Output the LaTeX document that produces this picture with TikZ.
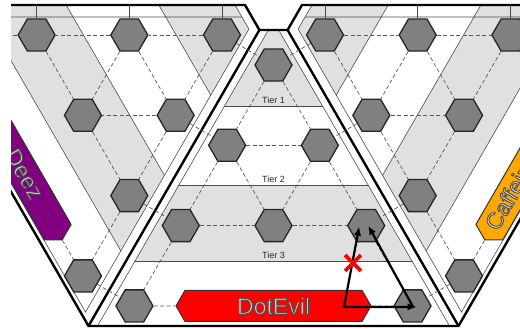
\documentclass[tikz,border=0pt]{standalone}
\usepackage{fontspec}
\setmainfont{Liberation Sans}
\usetikzlibrary{calc,positioning,arrows.meta,shapes.geometric,shapes.symbols,shapes.misc}
\newcommand{\seatname}[1]{\special{pdf:literal direct 2 Tr 0.9 w 0.3 G}#1\special{pdf:literal direct 0 Tr}}
\definecolor{bandgray}{RGB}{224,224,224}
\definecolor{hexgray}{RGB}{128,128,128}
\definecolor{deezpurple}{RGB}{128,0,128}
\definecolor{caffeorange}{RGB}{255,168,0}
\definecolor{evilred}{RGB}{255,0,0}
\tikzset{
  hexa/.style={regular polygon, regular polygon sides=6, minimum size=37pt,
               inner sep=0pt, fill=hexgray, draw=black!85, line width=1.3pt},
  hexlink/.style={draw=black!65, line width=0.7pt, dash pattern=on 4pt off 2.5pt},
  rim/.style={line width=2.4pt, black},
  lane/.style={line width=0.6pt, black!70},
  band/.style={fill=bandgray},
  seat/.style={signal, signal to=east and west, signal pointer angle=120,
               minimum width=195pt, minimum height=31pt, inner sep=0pt,
               draw=black!80, line width=1pt},
  seattext/.style={font=\fontsize{23}{23}\selectfont, text=white!85!black, inner sep=0pt},
  tiertext/.style={font=\fontsize{9}{9}\selectfont, text=black!85, inner sep=1pt},
  movearrow/.style={-{Latex[length=9pt,width=7.5pt]}, line width=2.2pt, black, line cap=round},
  crossmark/.style={cross out, draw=red, line width=3.8pt, minimum size=12pt, inner sep=0pt},
}

\begin{document}
\begin{tikzpicture}[x=1pt, y=-1pt]
  \useasboundingbox (0,0) rectangle (520,329);
  \begin{scope}
  \clip (11,3.5) rectangle (520,329);

  % side sectors (right one mirrored)
  \foreach \s in {1,-1}{
    \begin{scope}[xshift={(1-\s)*273.5pt}, xscale=\s]
      \begin{scope}
        \clip (-91.8,5) -- (235,5) -- (248.9,29.1) -- (85.5,312.1) -- cycle;
        \fill[band] (141.5,-25) -- (600,-25) -- (600,400) -- (386.8,400) -- cycle;
        \fill[band] (48.8,-25) -- (294.1,400) -- (206.9,400) -- (-38.4,-25) -- cycle;
        \draw[lane] (141.5,-25) -- (386.8,400) (48.8,-25) -- (294.1,400)
                    (-38.4,-25) -- (206.9,400) (-100,17) -- (300,17);
      \end{scope}
      \draw[lane] (-91.8,5) -- (235,5) -- (248.9,29.1) -- (85.5,312.1) -- cycle;
    \end{scope}
  }

  % central sector
  \begin{scope}
    \clip (268.4,30) -- (278.6,30) -- (449.5,326) -- (97.5,326) -- cycle;
    \fill[band] (0,0) rectangle (547,106);
    \fill[band] (0,185.5) rectangle (547,261);
    \draw[lane] (0,106) -- (547,106) (0,185.5) -- (547,185.5) (0,261) -- (547,261);
  \end{scope}
  \draw[lane] (268.4,30) -- (97.5,326) (278.6,30) -- (449.5,326);
  \node[tiertext, anchor=south] (tier1) at (273.5,104.5) {Tier 1};
  \node[tiertext, anchor=south] (tier2) at (273.5,184) {Tier 2};
  \node[tiertext, anchor=south] (tier3) at (273.5,259.5) {Tier 3};

  % board rim
  \draw[rim] (-60,5) -- (245,5) -- (259.4,30) -- (287.6,30) -- (302,5) -- (600,5);
  \draw[rim] (259.4,30) -- (88.5,326) (287.6,30) -- (458.5,326);
  \draw[rim] (-20,138.1) -- (88.5,326) -- (458.5,326) -- (567,138.1);

  % hexes
  \foreach \t/\m in {0/0,1/0,1/1,2/0,2/1,2/2,3/0,3/3}{
    \node[hexa] (l\t\m) at ({222-\t*92.7+\m*46.35},{35+\m*80.3}) {};
    \node[hexa] (r\t\m) at ({325+\t*92.7-\m*46.35},{35+\m*80.3}) {};
  }
  \foreach \r/\k in {0/0,1/0,1/1,2/0,2/1,2/2,3/0,3/3}
    \node[hexa] (c\r\k) at ({273.5+(\k-\r/2)*92.7},{65+\r*80.3}) {};

  % player seats
  \node[seat, fill=evilred] (evil) at (273.5,305.9) {};
  \node[seattext] (eviltext) at (evil) {\seatname{DotEvil}};
  \node[seat, fill=deezpurple, rotate=-60] (deez) at (13.4,155.5) {};
  \node[seattext, rotate=-60] (deeztext) at ($(deez)+(10.75,18.6)$) {\seatname{Deez}};
  \node[seat, fill=caffeorange, rotate=60] (caff) at (533.6,155.5) {};
  \node[seattext, rotate=60] (cafftext) at (512,191) {\seatname{Caffeine}};

  % links
  \foreach \a/\b in {c00/c10,c00/c11,c10/c11,c10/c20,c10/c21,c11/c21,c11/c22,c20/c21,
                     c21/c22,c20/c30,c22/c33,c30/evil,evil/c33,
                     l00/l10,l00/l11,l10/l11,l10/l20,l10/l21,l11/l21,l11/l22,l20/l21,
                     l21/l22,l20/l30,l22/l33,l30/deez,deez/l33,
                     r00/r10,r00/r11,r10/r11,r10/r20,r10/r21,r11/r21,r11/r22,r20/r21,
                     r21/r22,r20/r30,r22/r33,r30/caff,caff/r33,
                     l00/c00,l11/c10,l22/c20,l33/c30,r00/c00,r11/c11,r22/c22,r33/c33}
    \draw[hexlink] (\a) -- (\b);
  \coordinate (topedge) at (0,5);
  \foreach \n in {l00,l10,l20,l30,r00,r10,r20,r30}
    \draw[lane] (\n.north) -- (\n.north |- topedge);

  % moves
  \coordinate (evgo) at (344,307);
  \draw[movearrow] (evgo) -- ($(c33)+(4,1)$);
  \draw[movearrow] (evgo) -- ($(c22)+(-7,1)$);
  \draw[movearrow] (c33.center) -- ($(c22)+(2,0)$);
  \node[crossmark] (nogo) at (353,263) {};
  \end{scope}
\end{tikzpicture}
\end{document}
